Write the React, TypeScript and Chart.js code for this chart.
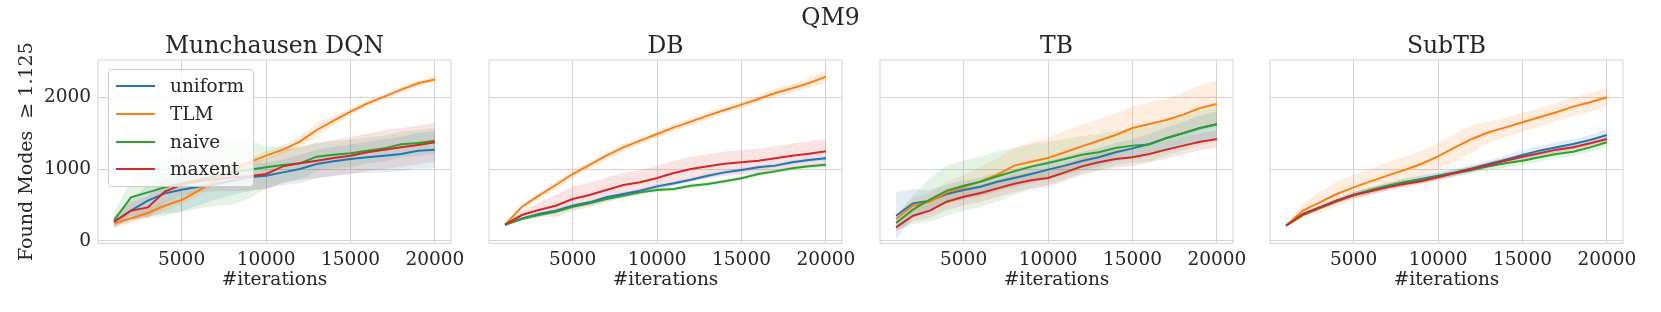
import React, { useEffect, useRef } from 'react';
import { Chart, registerables } from 'chart.js';

Chart.register(...registerables);

// ---------------- data ----------------
const iterations = [1000, 2000, 3000, 4000, 5000, 6000, 7000, 8000, 9000, 10000, 11000, 12000, 13000, 14000, 15000, 16000, 17000, 18000, 19000, 20000];
const methods = ['uniform', 'TLM', 'naive', 'maxent'];
const colors = ['#1f77b4', '#ff7f0e', '#2ca02c', '#d62728'];
const panelTitles = ['Munchausen DQN', 'DB', 'TB', 'SubTB'];
const suptitle = 'QM9';
const xLabel = '#iterations';
const yLabel = 'Found Modes  \u2265 1.125';
const xTicks = [5000, 10000, 15000, 20000];
const yTicks = [0, 1000, 2000];

// Munchausen DQN
const mdqnUniform = [265, 419, 558, 660, 712, 753, 790, 837, 884, 907, 953, 1000, 1070, 1107, 1140, 1163, 1186, 1209, 1256, 1270];
const mdqnTLM = [242, 312, 386, 488, 567, 698, 837, 977, 1093, 1186, 1270, 1381, 1544, 1674, 1800, 1916, 2009, 2107, 2195, 2247];
const mdqnNaive = [284, 605, 674, 744, 800, 850, 900, 950, 990, 1023, 1056, 1079, 1172, 1200, 1219, 1256, 1288, 1344, 1363, 1395];
const mdqnMaxent = [265, 419, 465, 684, 780, 830, 860, 880, 900, 930, 1037, 1079, 1116, 1153, 1186, 1233, 1270, 1302, 1335, 1372];
const mdqnUniformSd = [60, 150, 220, 280, 300, 260, 220, 200, 190, 180, 180, 200, 200, 200, 200, 220, 230, 240, 250, 260];
const mdqnTLMSd = [60, 60, 60, 70, 60, 60, 60, 60, 50, 60, 60, 80, 100, 60, 50, 40, 40, 40, 40, 40];
const mdqnNaiveSd = [100, 250, 350, 400, 400, 400, 420, 450, 400, 300, 250, 220, 200, 190, 190, 180, 180, 180, 180, 180];
const mdqnMaxentSd = [80, 120, 150, 150, 150, 150, 170, 190, 200, 210, 220, 230, 240, 250, 260, 260, 270, 270, 270, 270];

// DB
const dbUniform = [223, 312, 372, 419, 488, 535, 605, 651, 698, 758, 800, 851, 907, 953, 986, 1023, 1047, 1093, 1126, 1149];
const dbTLM = [223, 474, 628, 777, 930, 1056, 1186, 1302, 1395, 1488, 1581, 1660, 1744, 1823, 1898, 1977, 2060, 2126, 2200, 2288];
const dbNaive = [223, 302, 358, 405, 474, 521, 581, 628, 674, 707, 721, 767, 791, 828, 870, 930, 967, 1009, 1037, 1060];
const dbMaxent = [223, 358, 428, 488, 581, 637, 707, 777, 814, 874, 944, 1000, 1037, 1074, 1093, 1116, 1149, 1186, 1214, 1247];
const dbUniformSd = [10, 20, 25, 30, 30, 30, 30, 30, 30, 30, 30, 30, 30, 30, 30, 30, 30, 30, 30, 30];
const dbTLMSd = [15, 30, 40, 50, 50, 50, 50, 50, 50, 50, 50, 50, 50, 50, 50, 50, 60, 60, 70, 90];
const dbNaiveSd = [10, 20, 25, 30, 30, 30, 30, 30, 30, 30, 30, 30, 30, 30, 30, 30, 30, 30, 30, 30];
const dbMaxentSd = [20, 60, 100, 150, 170, 170, 170, 170, 170, 170, 170, 170, 170, 170, 170, 170, 170, 170, 170, 170];

// TB
const tbUniform = [349, 521, 558, 651, 707, 753, 823, 874, 930, 991, 1047, 1112, 1163, 1233, 1288, 1349, 1430, 1500, 1572, 1623];
const tbTLM = [302, 488, 544, 674, 744, 828, 921, 1047, 1102, 1153, 1233, 1316, 1395, 1474, 1572, 1628, 1684, 1758, 1851, 1907];
const tbNaive = [247, 433, 572, 698, 767, 823, 898, 967, 1033, 1084, 1140, 1200, 1233, 1293, 1326, 1340, 1433, 1498, 1572, 1623];
const tbMaxent = [186, 349, 419, 544, 614, 665, 730, 795, 842, 874, 953, 1037, 1093, 1140, 1163, 1209, 1270, 1326, 1381, 1419];
const tbUniformSd = [330, 200, 150, 130, 130, 130, 130, 130, 130, 130, 130, 130, 130, 130, 130, 140, 150, 160, 170, 180];
const tbTLMSd = [60, 100, 120, 150, 170, 200, 230, 250, 270, 290, 300, 300, 300, 300, 300, 300, 300, 310, 320, 330];
const tbNaiveSd = [100, 200, 300, 350, 350, 350, 350, 330, 310, 300, 280, 260, 250, 240, 240, 240, 240, 240, 240, 240];
const tbMaxentSd = [60, 80, 100, 120, 120, 120, 120, 120, 120, 120, 120, 120, 120, 120, 120, 120, 120, 120, 120, 120];

// SubTB
const subtbUniform = [209, 372, 465, 558, 637, 698, 758, 814, 860, 907, 953, 1009, 1070, 1130, 1195, 1256, 1302, 1349, 1405, 1474];
const subtbTLM = [209, 419, 535, 651, 744, 828, 907, 986, 1070, 1177, 1302, 1419, 1512, 1581, 1651, 1721, 1791, 1870, 1930, 2000];
const subtbNaive = [209, 358, 456, 549, 637, 707, 767, 814, 851, 898, 940, 986, 1037, 1079, 1116, 1163, 1209, 1242, 1302, 1372];
const subtbMaxent = [209, 372, 465, 558, 637, 688, 744, 791, 828, 884, 944, 1000, 1056, 1116, 1172, 1219, 1270, 1302, 1358, 1419];
const subtbUniformSd = [10, 20, 30, 40, 50, 50, 50, 50, 50, 50, 50, 50, 50, 60, 70, 70, 70, 70, 70, 80];
const subtbTLMSd = [10, 100, 150, 170, 180, 180, 180, 180, 180, 190, 190, 190, 150, 130, 130, 130, 130, 130, 130, 130];
const subtbNaiveSd = [10, 20, 30, 30, 30, 30, 40, 50, 50, 50, 50, 50, 50, 60, 60, 60, 60, 60, 60, 60];
const subtbMaxentSd = [10, 20, 30, 30, 40, 50, 50, 50, 40, 40, 40, 40, 40, 40, 40, 40, 40, 40, 40, 40];

const panelMeans = [
  [mdqnUniform, mdqnTLM, mdqnNaive, mdqnMaxent],
  [dbUniform, dbTLM, dbNaive, dbMaxent],
  [tbUniform, tbTLM, tbNaive, tbMaxent],
  [subtbUniform, subtbTLM, subtbNaive, subtbMaxent],
];
const panelSds = [
  [mdqnUniformSd, mdqnTLMSd, mdqnNaiveSd, mdqnMaxentSd],
  [dbUniformSd, dbTLMSd, dbNaiveSd, dbMaxentSd],
  [tbUniformSd, tbTLMSd, tbNaiveSd, tbMaxentSd],
  [subtbUniformSd, subtbTLMSd, subtbNaiveSd, subtbMaxentSd],
];

// ---------------- style ----------------
const FONT = '"DejaVu Serif", serif';
const TEXT = '#262626';
const GRID = '#d4d4d4';
const PANEL_LEFT0 = 98;
const PANEL_STEP = 390.8;
const PANEL_W = 353;
const RIGHT_PAD = 30;
const CANVAS_H = 312;

function rgba(hex: string, a: number) {
  const n = parseInt(hex.slice(1), 16);
  return `rgba(${(n >> 16) & 255},${(n >> 8) & 255},${n & 255},${a})`;
}

const frame = {
  id: 'frame',
  beforeDatasetsDraw(chart: any) {
    const { ctx, chartArea } = chart;
    ctx.save();
    ctx.strokeStyle = GRID;
    ctx.lineWidth = 1;
    ctx.strokeRect(chartArea.left, chartArea.top, chartArea.right - chartArea.left, chartArea.bottom - chartArea.top);
    ctx.restore();
  },
};

function buildConfig(p: number): any {
  const leftAxis = p === 0 ? PANEL_LEFT0 : 20;
  const datasets: any[] = [];
  methods.forEach((m, k) => {
    const mean = panelMeans[p][k];
    const sd = panelSds[p][k];
    datasets.push({
      label: m + ' lower',
      data: iterations.map((x, i) => ({ x, y: mean[i] - sd[i] })),
      borderWidth: 0,
      pointRadius: 0,
      fill: false,
      backgroundColor: 'transparent',
      borderColor: 'transparent',
      order: 10 + k,
    });
    datasets.push({
      label: m + ' upper',
      data: iterations.map((x, i) => ({ x, y: mean[i] + sd[i] })),
      borderWidth: 0,
      pointRadius: 0,
      fill: '-1',
      backgroundColor: rgba(colors[k], 0.13),
      borderColor: 'transparent',
      order: 10 + k,
    });
  });
  methods.forEach((m, k) => {
    datasets.push({
      label: m,
      data: iterations.map((x, i) => ({ x, y: panelMeans[p][k][i] })),
      borderColor: colors[k],
      backgroundColor: colors[k],
      borderWidth: 2,
      pointRadius: 0,
      fill: false,
      tension: 0,
      order: 3 - k,
    });
  });

  return {
    type: 'line',
    data: { datasets },
    plugins: [frame],
    options: {
      animation: false,
      responsive: false,
      devicePixelRatio: 1,
      events: [],
      layout: { padding: { left: 0, right: RIGHT_PAD, top: 0, bottom: 0 } },
      plugins: {
        legend: { display: false },
        tooltip: { enabled: false },
        title: {
          display: true,
          fullSize: false,
          text: panelTitles[p],
          color: TEXT,
          font: { family: FONT, size: 23.5, weight: 'normal', lineHeight: 1 },
          padding: { top: 35, bottom: 1.5 },
        },
      },
      scales: {
        x: {
          type: 'linear',
          min: 50,
          max: 20950,
          afterBuildTicks: (s: any) => {
            s.ticks = xTicks.map((v) => ({ value: v }));
          },
          afterFit: (s: any) => {
            s.height = 68.7;
          },
          ticks: {
            color: TEXT,
            font: { family: FONT, size: 18.5 },
            padding: 6,
            maxRotation: 0,
            autoSkip: false,
            callback: (v: any) => String(v),
          },
          grid: { color: GRID, drawTicks: false, lineWidth: 1 },
          border: { display: false },
          title: {
            display: true,
            text: xLabel,
            color: TEXT,
            font: { family: FONT, size: 18.5, lineHeight: 1.2 },
            padding: { top: 0, bottom: 21 },
          },
        },
        y: {
          type: 'linear',
          min: -36,
          max: 2520,
          afterBuildTicks: (s: any) => {
            s.ticks = yTicks.map((v) => ({ value: v }));
          },
          afterFit: (s: any) => {
            s.width = leftAxis;
          },
          ticks: {
            display: p === 0,
            color: TEXT,
            font: { family: FONT, size: 18.5 },
            padding: 7,
            callback: (v: any) => String(v),
          },
          grid: { color: GRID, drawTicks: false, lineWidth: 1 },
          border: { display: false },
          title: {
            display: p === 0,
            text: yLabel,
            color: TEXT,
            font: { family: FONT, size: 19, lineHeight: 1.2 },
            padding: { top: 16, bottom: 0 },
          },
        },
      },
    },
  };
}

function canvasGeom(p: number) {
  const panelLeft = PANEL_LEFT0 + PANEL_STEP * p;
  const axisW = p === 0 ? PANEL_LEFT0 : 20;
  const left = panelLeft - axisW;
  const width = axisW + PANEL_W + RIGHT_PAD;
  return { left, width };
}

export default function App() {
  const refs = [useRef<HTMLCanvasElement>(null), useRef<HTMLCanvasElement>(null), useRef<HTMLCanvasElement>(null), useRef<HTMLCanvasElement>(null)];

  useEffect(() => {
    const charts = refs.map((r, p) => new Chart(r.current as HTMLCanvasElement, buildConfig(p)));
    return () => charts.forEach((c) => c.destroy());
  }, []);

  const legendTop = 69;
  const legendLeft = 108;

  return (
    <div style={{ position: 'absolute', left: 0, top: 0, width: 1661, height: CANVAS_H, background: '#ffffff', overflow: 'hidden' }}>
      {refs.map((r, p) => {
        const g = canvasGeom(p);
        return (
          <canvas
            key={p}
            ref={r}
            width={Math.round(g.width)}
            height={CANVAS_H}
            style={{ position: 'absolute', left: Math.round(g.left), top: 0, width: Math.round(g.width), height: CANVAS_H, display: 'block' }}
          />
        );
      })}
      <div
        style={{
          position: 'absolute',
          left: 0,
          width: 1661,
          top: 3,
          textAlign: 'center',
          fontFamily: FONT,
          fontSize: 23.5,
          lineHeight: '28px',
          color: TEXT,
        }}
      >
        {suptitle}
      </div>
      <div
        style={{
          position: 'absolute',
          left: legendLeft,
          top: legendTop,
          width: 146,
          height: 118,
          boxSizing: 'border-box',
          border: '1px solid #cccccc',
          borderRadius: 4,
          background: 'rgba(255,255,255,0.8)',
        }}
      >
        {methods.map((m, k) => (
          <div key={m} style={{ position: 'absolute', left: 0, top: 16 + k * 27.8 - 14, height: 28, width: 144 }}>
            <div style={{ position: 'absolute', left: 7, top: 13, width: 39, height: 2, background: colors[k] }} />
            <div
              style={{
                position: 'absolute',
                left: 61,
                top: 0,
                height: 28,
                lineHeight: '28px',
                fontFamily: FONT,
                fontSize: 18.5,
                color: TEXT,
                whiteSpace: 'nowrap',
              }}
            >
              {m}
            </div>
          </div>
        ))}
      </div>
    </div>
  );
}
